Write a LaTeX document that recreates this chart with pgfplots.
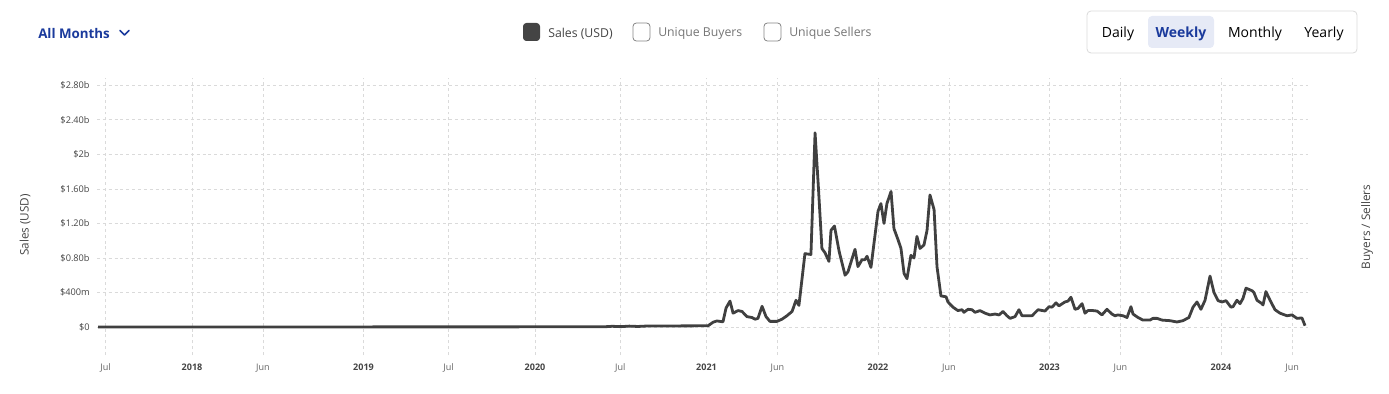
\documentclass[border=0pt]{standalone}
\usepackage{pgfplots}
\pgfplotsset{compat=1.18}
\usepackage{fontspec}
\setmainfont{Open Sans}
\definecolor{linec}{HTML}{404040}
\definecolor{gridc}{HTML}{DADADA}
\definecolor{navy}{HTML}{1A3A9C}
\definecolor{ticktxt}{HTML}{444444}
\definecolor{mon}{HTML}{666666}
\definecolor{hl}{HTML}{E6EAF6}
\begin{document}
\begin{tikzpicture}
\begin{scope}[x=0.75pt,y=0.75pt]
\path (0,0) rectangle (1389,393);
% top-left dropdown
\node[anchor=west,inner sep=0,text=navy,font=\fontsize{10pt}{11pt}\selectfont\bfseries] at (38,359.5) {All Months};
\draw[navy,line width=1.3pt,line cap=round,line join=round] (120,362.5)--(124.5,358)--(129,362.5);
% legend
\fill[ticktxt,rounded corners=2.5pt] (523,352) rectangle (540,370);
\node[anchor=west,inner sep=0,text=ticktxt,font=\fontsize{9.2pt}{11pt}\selectfont] at (548,359.5) {Sales (USD)};
\draw[draw=mon!80,line width=0.6pt,rounded corners=2.5pt] (633,352) rectangle (650,370);
\node[anchor=west,inner sep=0,text=mon!90,font=\fontsize{9.2pt}{11pt}\selectfont] at (658,359.5) {Unique Buyers};
\draw[draw=mon!80,line width=0.6pt,rounded corners=2.5pt] (764,352) rectangle (781,370);
\node[anchor=west,inner sep=0,text=mon!90,font=\fontsize{9.2pt}{11pt}\selectfont] at (789,359.5) {Unique Sellers};
% buttons
\draw[draw=gridc,line width=0.6pt,rounded corners=3pt] (1087,340) rectangle (1357,382);
\fill[hl,rounded corners=3pt] (1148,345) rectangle (1214,377);
\node[inner sep=0,text=black,font=\fontsize{10.5pt}{12pt}\selectfont] at (1118,359) {Daily};
\node[inner sep=0,text=navy,font=\fontsize{10.5pt}{12pt}\selectfont\bfseries] at (1181,359) {Weekly};
\node[inner sep=0,text=black,font=\fontsize{10.5pt}{12pt}\selectfont] at (1255,359) {Monthly};
\node[inner sep=0,text=black,font=\fontsize{10.5pt}{12pt}\selectfont] at (1324,359) {Yearly};
% axis labels
\node[rotate=90,inner sep=0,text=ticktxt,font=\fontsize{8.8pt}{10pt}\selectfont] at (25,168) {Sales (USD)};
\node[rotate=90,inner sep=0,text=ticktxt,font=\fontsize{8.8pt}{10pt}\selectfont] at (1367,166) {Buyers / Sellers};
\end{scope}
\begin{axis}[
  at={(72.75pt,28.5pt)}, anchor=south west,
  scale only axis, width=909.75pt, height=207.75pt,
  xmin=2017.446, xmax=2024.519,
  ymin=-0.3245, ymax=2.885,
  axis line style={draw=none},
  major tick length=0pt,
  grid=major,
  major grid style={gridc,line width=0.6pt,dash pattern=on 2.2pt off 2.2pt},
  /pgf/number format/assume math mode=true,
  xtick={2017.496,2018,2018.414,2019,2019.496,2020,2020.497,2021,2021.414,2022,2022.414,2023,2023.414,2024,2024.415},
  xticklabels={{\color{mon}Jul},\textbf{2018},{\color{mon}Jun},\textbf{2019},{\color{mon}Jul},\textbf{2020},{\color{mon}Jul},\textbf{2021},{\color{mon}Jun},\textbf{2022},{\color{mon}Jun},\textbf{2023},{\color{mon}Jun},\textbf{2024},{\color{mon}Jun}},
  xticklabel style={text=ticktxt,font=\fontsize{6.8pt}{8pt}\selectfont,yshift=-3pt},
  ytick={0,0.4,0.8,1.2,1.6,2,2.4,2.8},
  yticklabels={\$0,\$400m,\$0.80b,\$1.20b,\$1.60b,\$2b,\$2.40b,\$2.80b},
  yticklabel style={text=ticktxt,font=\fontsize{6.9pt}{8pt}\selectfont,xshift=-2pt},
  clip=false,
]
\addplot[linec,line width=2.1pt,line join=round,mark=none] coordinates {
(2017.452,0) (2020.400,0.002) (2020.450,0.008) (2020.500,0.004) (2020.550,0.010)
(2020.600,0.006) (2020.650,0.011) (2020.750,0.012) (2020.900,0.013) (2021.009,0.014)
(2021.038,0.055) (2021.061,0.070) (2021.096,0.060) (2021.114,0.220) (2021.137,0.300)
(2021.155,0.160) (2021.184,0.190) (2021.207,0.180) (2021.236,0.120) (2021.265,0.110)
(2021.283,0.090) (2021.300,0.100) (2021.324,0.240) (2021.347,0.120) (2021.370,0.065)
(2021.411,0.065) (2021.440,0.090) (2021.469,0.130) (2021.499,0.180) (2021.522,0.310)
(2021.539,0.250) (2021.574,0.850) (2021.609,0.840) (2021.633,2.250) (2021.653,1.600)
(2021.673,0.910) (2021.691,0.860) (2021.714,0.760) (2021.726,1.120) (2021.746,1.170)
(2021.773,0.880) (2021.808,0.600) (2021.825,0.640) (2021.866,0.900) (2021.883,0.700)
(2021.907,0.780) (2021.924,0.780) (2021.936,0.820) (2021.959,0.690) (2022.000,1.340)
(2022.017,1.430) (2022.035,1.200) (2022.052,1.430) (2022.076,1.570) (2022.093,1.140)
(2022.117,1.010) (2022.134,0.910) (2022.152,0.620) (2022.169,0.560) (2022.192,0.830)
(2022.210,0.800) (2022.227,1.050) (2022.245,0.910) (2022.268,0.950) (2022.286,1.120)
(2022.303,1.530) (2022.327,1.360) (2022.344,0.700) (2022.367,0.360) (2022.397,0.350)
(2022.408,0.290) (2022.437,0.230) (2022.466,0.190) (2022.490,0.200) (2022.501,0.170)
(2022.525,0.205) (2022.548,0.200) (2022.566,0.170) (2022.595,0.190) (2022.624,0.160)
(2022.653,0.140) (2022.682,0.150) (2022.706,0.140) (2022.729,0.180) (2022.752,0.130)
(2022.770,0.100) (2022.799,0.120) (2022.822,0.200) (2022.840,0.130) (2022.898,0.130)
(2022.933,0.200) (2022.974,0.185) (2022.997,0.235) (2023.015,0.230) (2023.038,0.280)
(2023.055,0.245) (2023.090,0.290) (2023.108,0.300) (2023.125,0.345) (2023.149,0.205)
(2023.166,0.215) (2023.190,0.270) (2023.207,0.160) (2023.224,0.190) (2023.254,0.190)
(2023.277,0.185) (2023.306,0.140) (2023.335,0.205) (2023.364,0.150) (2023.382,0.130)
(2023.399,0.140) (2023.429,0.130) (2023.452,0.110) (2023.475,0.235) (2023.487,0.150)
(2023.516,0.110) (2023.545,0.080) (2023.586,0.080) (2023.603,0.100) (2023.627,0.100)
(2023.656,0.080) (2023.703,0.073) (2023.743,0.058) (2023.778,0.073) (2023.813,0.110)
(2023.837,0.230) (2023.860,0.290) (2023.883,0.205) (2023.907,0.310) (2023.936,0.590)
(2023.959,0.400) (2023.983,0.305) (2024.006,0.290) (2024.029,0.305) (2024.058,0.230)
(2024.070,0.235) (2024.093,0.310) (2024.111,0.270) (2024.128,0.330) (2024.146,0.450)
(2024.181,0.420) (2024.192,0.400) (2024.210,0.310) (2024.239,0.270) (2024.245,0.255)
(2024.262,0.410) (2024.286,0.310) (2024.315,0.200) (2024.344,0.160) (2024.385,0.130)
(2024.414,0.140) (2024.443,0.100) (2024.472,0.105) (2024.490,0.015)
};
\end{axis}
\end{tikzpicture}
\end{document}
